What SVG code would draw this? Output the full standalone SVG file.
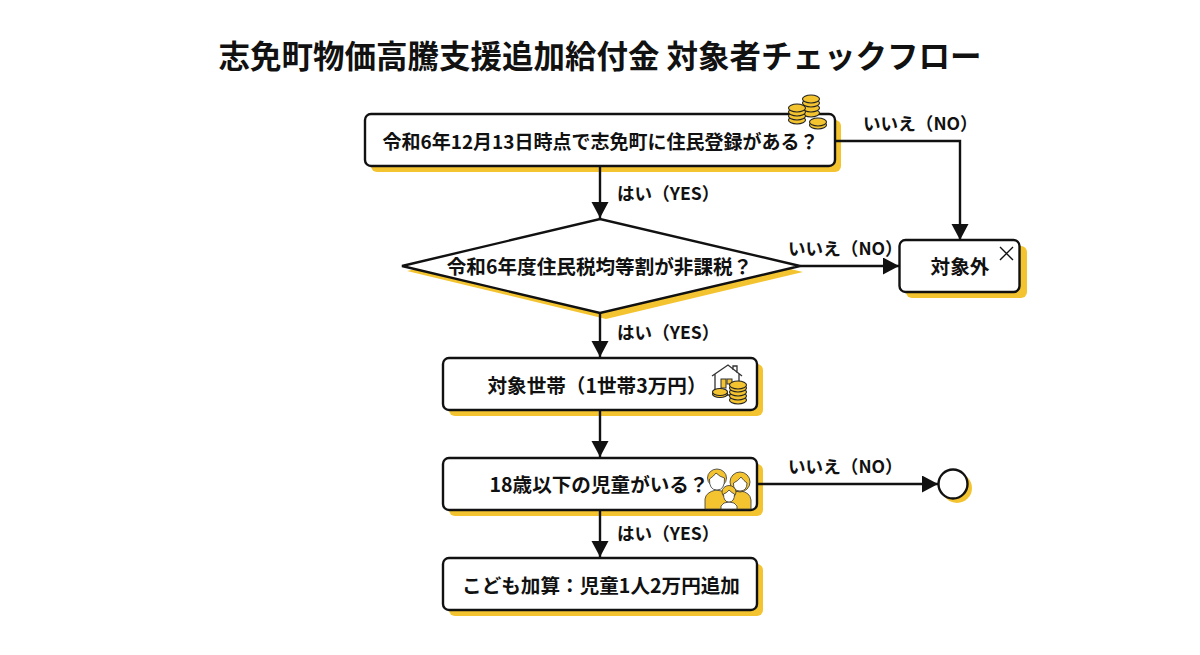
<svg xmlns="http://www.w3.org/2000/svg" width="1200" height="655" viewBox="0 0 1200 655">
<style>
text{font-family:"Noto Sans CJK JP","Noto Sans",sans-serif;fill:#111;font-weight:700}
.t{font-size:19.600px;text-anchor:middle}
.t1{font-size:19px;text-anchor:middle}
.title{font-size:31.500px;text-anchor:middle}
.l{font-size:17.600px;font-weight:700}
.box{fill:#fff;stroke:#111;stroke-width:2.4}
.sh{fill:#f4c430}
.c{fill:none;stroke:#111;stroke-width:2.4}
.coin{fill:#f4c430;stroke:#222;stroke-width:1.1}
.ic{fill:none;stroke:#333;stroke-width:1.3}
.p{fill:#f4c430;stroke:#333;stroke-width:.8}
.f{fill:#fff;stroke:#333;stroke-width:.8}
</style>
<defs>
<marker id="a" markerUnits="userSpaceOnUse" markerWidth="18" markerHeight="18" refX="16" refY="8.500" orient="auto"><path d="M0 0L16 8.500L0 17Z" fill="#111"/></marker>
<g id="coin"><ellipse class="coin" cx="0" cy="0" rx="8.500" ry="4"/></g>
</defs>
<rect width="1200" height="655" fill="#fff"/>
<text class="title" x="600" y="67.500">志免町物価高騰支援追加給付金 対象者チェックフロー</text>
<g id="node-resident">
<rect class="sh" x="371" y="120" width="470" height="52" rx="6"/>
<rect class="box" x="365" y="114" width="470" height="52" rx="6"/>
<text class="t1" x="600.500" y="149">令和6年12月13日時点で志免町に住民登録がある？</text>
<g id="icon-coins">
<use href="#coin" x="811" y="113"/><use href="#coin" x="811" y="108"/><use href="#coin" x="811" y="103"/><use href="#coin" x="811" y="99"/>
<use href="#coin" x="797" y="120"/><use href="#coin" x="797" y="116"/><use href="#coin" x="797" y="112"/><use href="#coin" x="797" y="108"/>
<use href="#coin" x="818" y="125"/><use href="#coin" x="818" y="122"/>
</g>
</g>
<g id="node-tax">
<polygon class="sh" points="407,271 606,225 803,272 606,319"/>
<polygon class="box" points="402,266 600,219 800,266 600,313"/>
<text class="t" x="599.500" y="274">令和6年度住民税均等割が非課税？</text>
</g>
<g id="node-out">
<rect class="sh" x="906" y="246" width="121" height="52" rx="6"/>
<rect class="box" x="899.500" y="240" width="120" height="52" rx="6"/>
<text class="t" x="960" y="274">対象外</text>
<path d="M1000 247L1013 260M1013 247L1000 260" stroke="#111" stroke-width="1.400"/>
</g>
<g id="node-household">
<rect class="sh" x="449" y="364" width="314" height="52" rx="6"/>
<rect class="box" x="443" y="358" width="314" height="52" rx="6"/>
<text class="t" x="597" y="393">対象世帯（1世帯3万円）</text>
<g id="icon-house">
<path class="ic" d="M712 376L728 365L742 376M715 374V395H733M739 374V383M733 370V366H737V373"/>
<rect x="721" y="379" width="5" height="9" fill="#f4c430" stroke="#333" stroke-width="1"/>
<rect x="727" y="379" width="5" height="5" fill="#f4c430" stroke="#333" stroke-width="1"/>
<ellipse class="coin" cx="720" cy="394" rx="7.500" ry="3.500"/><ellipse class="coin" cx="720" cy="392" rx="7.500" ry="3.500"/>
<use href="#coin" x="738" y="400"/><use href="#coin" x="738" y="396"/><use href="#coin" x="738" y="392"/><use href="#coin" x="738" y="388"/><use href="#coin" x="738" y="385"/>
</g>
</g>
<g id="node-child">
<rect class="sh" x="449" y="464" width="314" height="52" rx="6"/>
<rect class="box" x="443" y="458" width="314" height="52" rx="6"/>
<text class="t" x="599" y="491.500">18歳以下の児童がいる？</text>
<g id="icon-family">
<path class="p" d="M705 509V499Q706 492 716 490L727 492V509Z"/>
<path class="p" d="M727 509V498Q730 491 740 491Q750 492 751 500V509Z"/>
<ellipse class="p" cx="717" cy="478" rx="9.500" ry="9"/>
<path class="f" d="M709.500 479Q714 476 716 473Q720 477 724.500 478Q725 490 717 490Q709 490 709.500 479Z"/>
<ellipse class="p" cx="740" cy="482" rx="10" ry="10"/>
<path class="f" d="M733.500 483Q738 481 741 477Q744 481 747 483Q747 491 740 491Q733 491 733.500 483Z"/>
<path class="f" d="M721 509V506Q723 502 729 502Q735 502 737 506V509Z"/>
<ellipse class="p" cx="729" cy="492" rx="7" ry="6.500"/>
<path class="f" d="M723.500 494Q727 493 729 490Q732 493 734.500 494Q734.500 502 729 502Q723.500 502 723.500 494Z"/>
</g>
</g>
<g id="node-end">
<circle class="sh" cx="957" cy="488" r="15"/>
<circle class="box" cx="953" cy="484" r="14.500"/>
</g>
<g id="node-bonus">
<rect class="sh" x="449" y="564" width="314" height="52" rx="6"/>
<rect class="box" x="443" y="558" width="314" height="52" rx="6"/>
<text class="t" x="601" y="592.500">こども加算：児童1人2万円追加</text>
</g>
<g id="connectors">
<path class="c" d="M600 166V218" marker-end="url(#a)"/>
<path class="c" d="M600 313V357" marker-end="url(#a)"/>
<path class="c" d="M600 410V457" marker-end="url(#a)"/>
<path class="c" d="M600 510V557" marker-end="url(#a)"/>
<path class="c" d="M835 141H960V240" marker-end="url(#a)"/>
<path class="c" d="M800 266H899" marker-end="url(#a)"/>
<path class="c" d="M757 484H938" marker-end="url(#a)"/>
</g>
<g id="labels">
<text class="l" x="863" y="130">いいえ（NO）</text>
<text class="l" x="617" y="200">はい（YES）</text>
<text class="l" x="788" y="255">いいえ（NO）</text>
<text class="l" x="617" y="339">はい（YES）</text>
<text class="l" x="788" y="473">いいえ（NO）</text>
<text class="l" x="617" y="540">はい（YES）</text>
</g>
</svg>
